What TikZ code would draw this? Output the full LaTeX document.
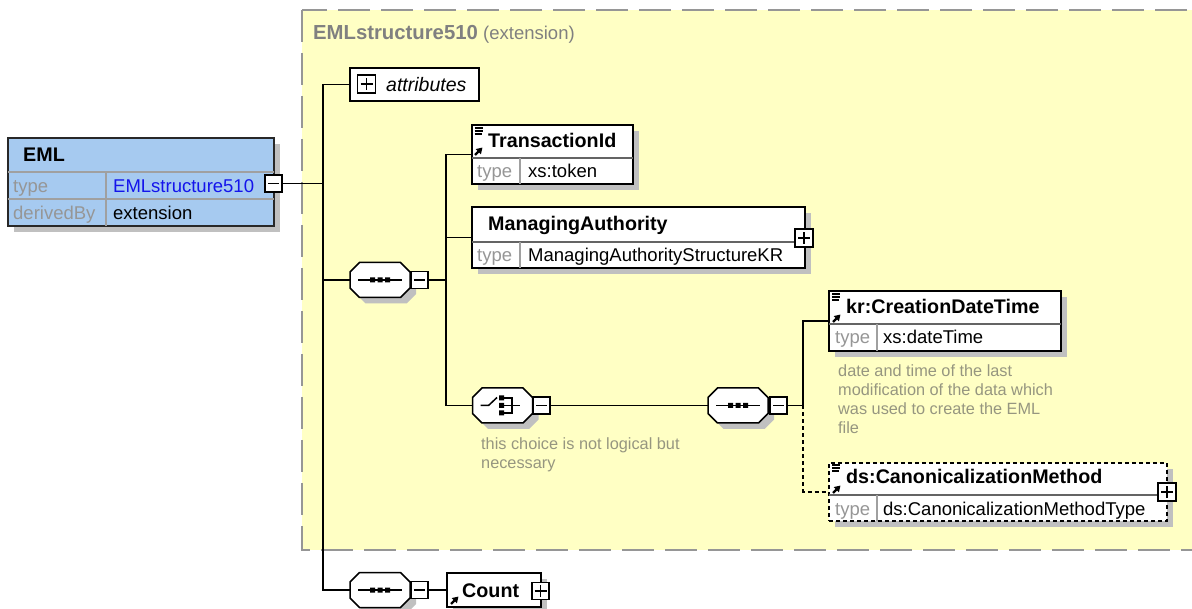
\documentclass[tikz,border=0pt]{standalone}
\usepackage{fontspec}
\setmainfont{Liberation Sans}
\usetikzlibrary{shadows,arrows.meta}
\definecolor{yel}{RGB}{255,255,196}
\definecolor{dashgray}{RGB}{150,150,150}
\definecolor{emlblue}{RGB}{166,202,240}
\definecolor{shad}{RGB}{192,192,192}
\definecolor{lblgray}{RGB}{150,150,150}
\definecolor{notecol}{RGB}{150,150,128}
\definecolor{linkblue}{RGB}{20,20,235}
\definecolor{titlegray}{RGB}{128,128,128}
\definecolor{divdark}{RGB}{100,100,100}
\definecolor{divlight}{RGB}{160,160,160}
\newcommand\fr{\fontsize{18.5}{22}\selectfont}
\newcommand\fb{\fontsize{19.7}{23}\selectfont\bfseries}
\newcommand\ftb{\fontsize{20.3}{24}\selectfont\bfseries}
\newcommand\fit{\fontsize{19.5}{23}\selectfont\itshape}
\newcommand\fn{\fontsize{16.3}{19}\selectfont}
\tikzset{
  conn/.style={line width=1.4pt, draw=black},
  dconn/.style={line width=1.4pt, draw=black, dash pattern=on 4pt off 3pt},
  shadowed/.style={general shadow={fill=shad, shadow xshift=6pt, shadow yshift=-6pt}},
  elbox/.style={draw=black, line width=1.6pt, fill=white, rectangle, inner sep=0pt, shadowed},
  emlbox/.style={draw={rgb,255:red,40;green,40;blue,40}, line width=2pt, fill=emlblue, rectangle, inner sep=0pt, shadowed},
  seqbox/.style={rectangle, draw=none, minimum width=60pt, minimum height=35pt, inner sep=0pt},
  togglebox/.style={draw=black, line width=1.3pt, fill=white, minimum size=17pt, inner sep=0pt, rectangle},
  minusbox/.style={togglebox, path picture={\draw[line width=1.4pt] ([xshift=-5.5pt]path picture bounding box.center) -- ([xshift=5.5pt]path picture bounding box.center);}},
  plusbox/.style={togglebox, path picture={\draw[line width=1.4pt] ([xshift=-6pt]path picture bounding box.center) -- ([xshift=6pt]path picture bounding box.center) ([yshift=-6pt]path picture bounding box.center) -- ([yshift=6pt]path picture bounding box.center);}},
  txt/.style={inner sep=0pt, anchor=base west},
  divider/.style={draw=divdark, line width=1.3pt},
  coldivider/.style={draw=divlight, line width=1.3pt},
  octagon/.pic={
     \fill[shad, shift={(6,6)}] (-20.5,-17.5) -- (20.5,-17.5) -- (30,-8) -- (30,8) -- (20.5,17.5) -- (-20.5,17.5) -- (-30,8) -- (-30,-8) -- cycle;
     \draw[line width=1.5pt, fill=white] (-20.5,-17.5) -- (20.5,-17.5) -- (30,-8) -- (30,8) -- (20.5,17.5) -- (-20.5,17.5) -- (-30,8) -- (-30,-8) -- cycle;},
  docmark/.pic={\draw[line width=1.6pt] (0,0)--(8,0) (0,3)--(8,3) (0,6)--(7,6);},
  refarrow/.pic={\draw[line width=2.2pt,-{Triangle[length=6pt,width=7pt]}] (0,0)--(7.5,-7.5);},
  seqdots/.pic={\draw[line width=1.5pt] (-22,0)--(22,0);
     \fill (-10,-2.5) rectangle (-5,2.5) (-2.5,-2.5) rectangle (2.5,2.5) (5,-2.5) rectangle (10,2.5);},
  choicemark/.pic={\draw[line width=1.5pt] (-22,0)--(-14,0)--(-5.5,-8);
     \fill (-3.5,-10) rectangle (1.5,-5) (-3.5,-2.5) rectangle (1.5,2.5) (-3.5,5) rectangle (1.5,10);
     \draw[line width=1.5pt] (1.5,-7.5)--(9.5,-7.5)--(9.5,7.5)--(1.5,7.5) (1.5,0)--(17.5,0);}
}
\begin{document}
\begin{tikzpicture}[x=1pt,y=-1pt]
\useasboundingbox (0,0) rectangle (1192,609);
\clip (0,0) rectangle (1192,609);
\fill[white] (0,0) rectangle (1192,609);
% extension area
\draw[fill=yel, draw=dashgray, line width=2pt, dash pattern=on 32pt off 11pt] (302,10) rectangle (1215,550);
\node[txt, font=\ftb, text=titlegray] (ttl) at (313,40) {EMLstructure510};
\node[txt, font=\fr, text=titlegray] (ttl2) at (483,40) {(extension)};

% EML element
\node[emlbox, minimum width=266pt, minimum height=88pt] (eml) at (141,182) {};
\draw[draw=divlight, line width=1.5pt] (8,172) -- (274,172) (8,199) -- (274,199) (106,172) -- (106,226);
\node[txt, font=\fb] (emlname) at (23,162) {EML};
\node[txt, font=\fr, text=lblgray] (emltypel) at (13,193) {type};
\node[txt, font=\fr, text=linkblue] (emltype) at (113,193) {EMLstructure510};
\node[txt, font=\fr, text=lblgray] (emldbl) at (13,220) {derivedBy};
\node[txt, font=\fr] (emldb) at (113,220) {extension};
\node[minusbox] (emlminus) at (273.5,183.5) {};

% attributes
\node[draw=black, line width=1.6pt, fill=white, minimum width=129pt, minimum height=33pt, inner sep=0pt] (attr) at (414.5,84.5) {};
\node[plusbox, minimum size=18pt] (attrplus) at (366.5,84) {};
\node[txt, font=\fit] (attrtext) at (386,92) {attributes};

% sequence 1
\node[seqbox] (seq1) at (380,280) {};
\pic at (380,280) {octagon};
\pic at (380,280) {seqdots};
\node[minusbox] (seq1minus) at (419.5,280) {};

% TransactionId
\node[elbox, minimum width=161pt, minimum height=59pt] (tid) at (552.5,154.5) {};
\draw[divider] (472,158) -- (633,158);
\draw[coldivider] (520,158) -- (520,184);
\pic at (474.5,128) {docmark};
\pic at (475,155) {refarrow};
\node[txt, font=\fb] (tidname) at (488,148) {TransactionId};
\node[txt, font=\fr, text=lblgray] (tidtl) at (477,178) {type};
\node[txt, font=\fr] (tidtype) at (528,178) {xs:token};

% ManagingAuthority
\node[elbox, minimum width=333pt, minimum height=61pt] (mgr) at (638.5,237.5) {};
\draw[divider] (472,242) -- (805,242);
\draw[coldivider] (520,242) -- (520,268);
\node[txt, font=\fb] (mgrname) at (488,231) {ManagingAuthority};
\node[txt, font=\fr, text=lblgray] (mgrtl) at (477,262) {type};
\node[txt, font=\fr] (mgrtype) at (528,262) {ManagingAuthorityStructureKR};
\node[plusbox, minimum size=18pt] (mgrplus) at (804,238) {};

% choice
\node[seqbox, minimum width=61pt] (choice) at (502.5,405.5) {};
\pic at (502.5,405.5) {octagon};
\pic at (502.5,405.5) {choicemark};
\node[minusbox] (choiceminus) at (541.5,405.5) {};
\node[txt, font=\fn, text=notecol] (choicenote1) at (481,450) {this choice is not logical but};
\node[txt, font=\fn, text=notecol] (choicenote2) at (481,468) {necessary};

% sequence 2
\node[seqbox] (seq2) at (738,405.5) {};
\pic at (738,405.5) {octagon};
\pic at (738,405.5) {seqdots};
\node[minusbox] (seq2minus) at (778.5,405.5) {};

% kr:CreationDateTime
\node[elbox, minimum width=232pt, minimum height=60pt] (kr) at (945,321) {};
\draw[divider] (829,324) -- (1061,324);
\draw[coldivider] (877,324) -- (877,351);
\pic at (832,294) {docmark};
\pic at (833,322) {refarrow};
\node[txt, font=\fb] (krname) at (846,314) {kr:CreationDateTime};
\node[txt, font=\fr, text=lblgray] (krtl) at (835,344) {type};
\node[txt, font=\fr] (krtype) at (883,344) {xs:dateTime};
\node[txt, font=\fn, text=notecol] (krnote1) at (838,377) {date and time of the last};
\node[txt, font=\fn, text=notecol] (krnote2) at (838,396) {modification of the data which};
\node[txt, font=\fn, text=notecol] (krnote3) at (838,415) {was used to create the EML};
\node[txt, font=\fn, text=notecol] (krnote4) at (838,434) {file};

% ds:CanonicalizationMethod
\node[elbox, dash pattern=on 4pt off 3pt, minimum width=338pt, minimum height=58pt] (ds) at (998,492) {};
\draw[divider] (829,495) -- (1167,495);
\draw[coldivider] (877,495) -- (877,521);
\pic at (832,465) {docmark};
\pic at (833,493) {refarrow};
\node[txt, font=\fb] (dsname) at (846,484) {ds:CanonicalizationMethod};
\node[txt, font=\fr, text=lblgray] (dstl) at (835,515) {type};
\node[txt, font=\fr] (dstype) at (883,515) {ds:CanonicalizationMethodType};
\node[plusbox, minimum size=18pt] (dsplus) at (1167,492) {};

% sequence 3 and Count
\node[seqbox, minimum height=34pt] (seq3) at (380,590) {};
\pic at (380,590) {octagon};
\pic at (380,590) {seqdots};
\node[minusbox] (seq3minus) at (419.5,590) {};
\node[elbox, minimum width=94pt, minimum height=34pt] (count) at (494,590) {};
\pic at (451,604) {refarrow};
\node[txt, font=\fb] (countname) at (462,597) {Count};
\node[plusbox] (countplus) at (540.5,591) {};

% connectors
\coordinate (j1) at (323,183.5);
\coordinate (j2) at (446,280);
\coordinate (j3) at (803,405.5);
\draw[conn] (emlminus.east) -- (j1);
\draw[conn] (j1) |- (attr.west);
\draw[conn] (j1) |- (seq1.west);
\draw[conn] (j1) |- (seq3.west);
\draw[conn] (seq1minus.east) -- (j2);
\draw[conn] (j2) |- (tid.west);
\draw[conn] (j2) |- (mgr.west);
\draw[conn] (j2) |- (choice.west);
\draw[conn] (choiceminus.east) -- (seq2.west);
\draw[conn] (seq2minus.east) -- (j3);
\draw[conn] (j3) |- (kr.west);
\draw[dconn] (j3) |- (ds.west);
\draw[conn] (seq3minus.east) -- (count.west);
\end{tikzpicture}
\end{document}
